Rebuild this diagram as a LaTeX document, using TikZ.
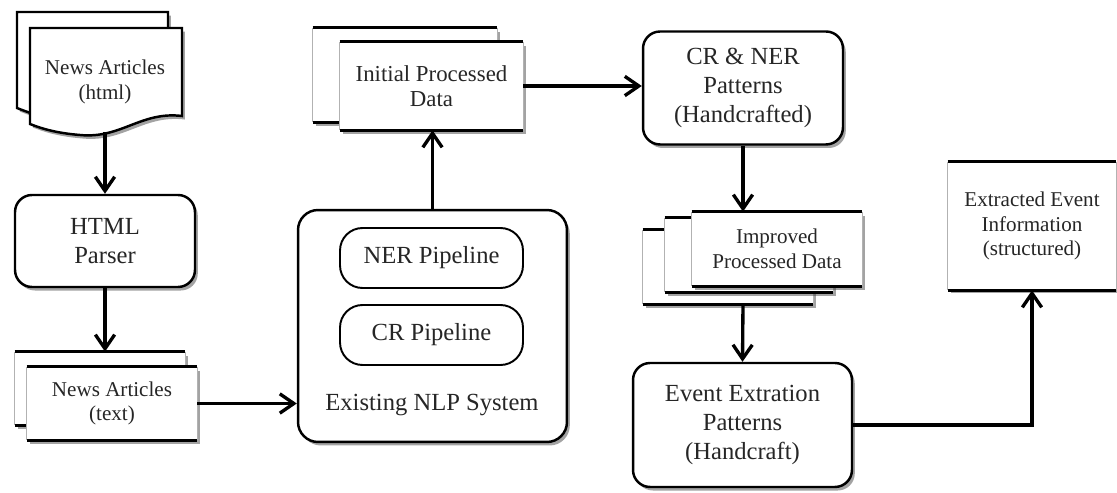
\documentclass[tikz,border=0pt]{standalone}
\usepackage{fontspec}
\setmainfont{Liberation Serif}
\usetikzlibrary{arrows.meta,shadows}

\begin{document}
\begin{tikzpicture}[x=0.02cm, y=-0.02cm,
		shadowed/.style={drop shadow={shadow xshift=1.6pt, shadow yshift=-2pt, opacity=0.45, fill=black!80}},
		proc/.style={rectangle, draw, line width=1.4pt, rounded corners=0.34cm, fill=white, shadowed,
			inner sep=0pt, align=center, text=black!85, font=\fontsize{14}{16.5}\selectfont},
		pipe/.style={rectangle, draw, line width=1.1pt, rounded corners=0.45cm, fill=white,
			minimum width=3.66cm, minimum height=1.2cm, inner sep=0pt, text=black!85,
			font=\fontsize{14}{16.5}\selectfont},
		pageline/.style={draw, line width=1.6pt},
		pageside/.style={draw=black!30, line width=0.8pt},
		page/.style={rectangle, fill=white, shadowed, inner sep=0pt, align=center, text=black!85,
			font=\fontsize{12}{14}\selectfont,
			append after command={(\tikzlastnode.north west) edge[pageside] (\tikzlastnode.south west)
				(\tikzlastnode.north east) edge[pageside] (\tikzlastnode.south east)
				(\tikzlastnode.north west) edge[pageline] (\tikzlastnode.north east)
				(\tikzlastnode.south west) edge[pageline] (\tikzlastnode.south east)}},
		docline/.style={line width=1.4pt},
		arr/.style={-{Straight Barb[length=8pt, width=11pt]}, line width=1.9pt}]

	\useasboundingbox (0,0) rectangle (1117,493);

	% ===== news articles (html) =====
	\draw[docline, fill=white, shadowed] (17,12) -- (168,12) -- (168,101)
		.. controls (127,96) and (107,124) .. (67,120) .. controls (42,118) and (27,112) .. (17,108) -- cycle;
	\draw[docline, fill=white, shadowed] (30,28) -- (182,28) -- (182,116)
		.. controls (141,111) and (121,139) .. (80,135) .. controls (55,133) and (40,128) .. (30,124) -- cycle;
	\node[align=center, text=black!85, font=\fontsize{12}{14}\selectfont] (html) at (105,82) {News Articles\\(html)};
	\coordinate (htmlbot) at (105,132);

	% ===== parser =====
	\node[proc, minimum width=3.6cm, minimum height=1.84cm] (parser) at (105,241) {HTML\\Parser};

	% ===== news articles (text) =====
	\node[page, minimum width=3.4cm, minimum height=1.46cm] (txtback) at (100,388.5) {};
	\node[page, minimum width=3.4cm, minimum height=1.46cm] (txtfront) at (112,403.5) {News Articles\\(text)};

	% ===== NLP system =====
	\node[proc, rounded corners=0.4cm, minimum width=5.38cm, minimum height=4.64cm] (nlp) at (432.5,326) {};
	\node[pipe] (ner) at (431.5,258) {NER Pipeline};
	\node[pipe] (crp) at (431.5,335) {CR Pipeline};
	\node[text=black!85, font=\fontsize{14}{16.5}\selectfont] (nlplabel) at (432,405) {Existing NLP System};

	% ===== initial processed data =====
	\node[page, minimum width=3.68cm, minimum height=1.88cm] (initback) at (405,75) {};
	\node[page, minimum width=3.66cm, minimum height=1.76cm, font=\fontsize{13}{14.5}\selectfont]
		(initfront) at (431.5,86) {Initial Processed\\Data};

	% ===== CR & NER patterns =====
	\node[proc, minimum width=4.0cm, minimum height=2.26cm] (crner) at (743,88) {CR \& NER\\Patterns\\(Handcrafted)};

	% ===== improved processed data =====
	\node[page, minimum width=3.4cm, minimum height=1.48cm] (impback) at (728,267) {};
	\node[page, minimum width=3.36cm, minimum height=1.48cm] (impmid) at (749,255) {};
	\node[page, minimum width=3.4cm, minimum height=1.48cm] (impfront) at (777,249) {Improved\\Processed Data};

	% ===== event extraction patterns =====
	\node[proc, minimum width=4.38cm, minimum height=2.48cm] (event) at (742.5,425)
		{Event Extration\\Patterns\\(Handcraft)};

	% ===== extracted event information =====
	\node[page, minimum width=3.36cm, minimum height=2.56cm] (extract) at (1032,226)
		{Extracted Event\\Information\\(structured)};

	% ===== strzalki =====
	\draw[arr] (htmlbot) -- (parser.north);
	\draw[arr] (parser.south) -- (parser.south |- txtback.north);
	\draw[arr] (txtfront.east) -- (txtfront.east -| nlp.west);
	\draw[arr] (nlp.north) -- (nlp.north |- initfront.south);
	\draw[arr] (initfront.east) -- (initfront.east -| crner.west);
	\draw[arr] (crner.south) -- (crner.south |- impfront.north);
	\draw[arr] (impback.south -| crner.south) -- (event.north);
	\draw[arr] (event.east) -| (extract.south);
\end{tikzpicture}
\end{document}
